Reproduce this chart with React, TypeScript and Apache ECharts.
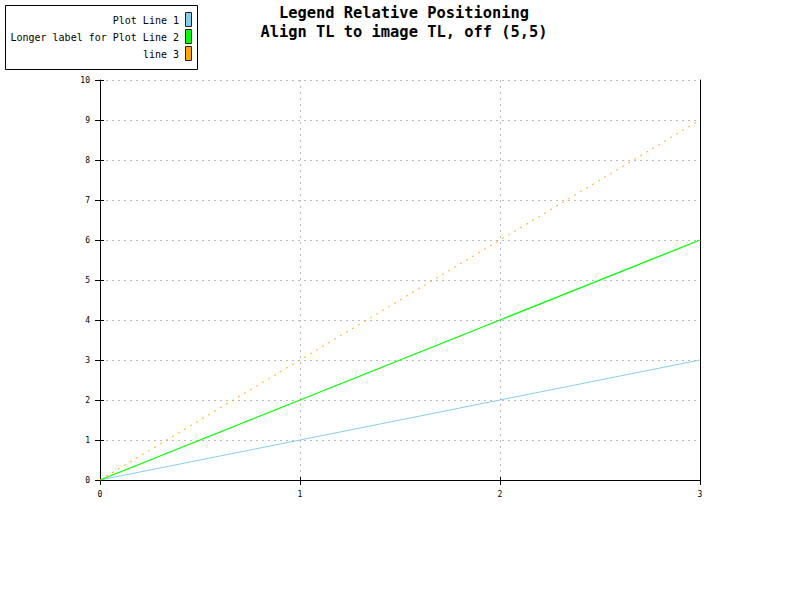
import React, { useEffect, useRef } from "react";
import * as echarts from "echarts";

const xValues = [0, 1, 2, 3];
const line1 = [0, 1, 2, 3];
const line2 = [0, 2, 4, 6];
const line3 = [0, 3, 6, 9];
const seriesNames = ["Plot Line 1", "Longer label for Plot Line 2", "line 3"];
const seriesColors = ["#87CEEB", "#00FF00", "#FFA500"];
const titleLines = ["Legend Relative Positioning", "Align TL to image TL, off (5,5)"];

const FONT = "DejaVu Sans Mono";

export default function App() {
  const ref = useRef<HTMLDivElement>(null);
  useEffect(() => {
    const chart = echarts.init(ref.current!, null, { renderer: "svg" });
    const mk = (d: number[]) => d.map((v, i) => [xValues[i], v]);
    const gridLine = { show: true, lineStyle: { color: "#bbbbbb", type: [2, 4] as any, width: 1 } };
    const legendGraphics: any[] = [
      {
        type: "rect",
        shape: { x: 5.5, y: 5.5, width: 192, height: 64 },
        style: { fill: "#fff", stroke: "#000", lineWidth: 1 },
      },
    ];
    seriesNames.forEach((n, i) => {
      const cy = 20 + i * 17;
      legendGraphics.push({
        type: "text",
        x: 179,
        y: cy,
        style: { text: n, font: `10px '${FONT}'`, fill: "#000", align: "right", verticalAlign: "middle" },
      });
      legendGraphics.push({
        type: "rect",
        shape: { x: 185.5, y: cy - 7.5, width: 6, height: 14 },
        style: { fill: seriesColors[i], stroke: "#222", lineWidth: 1 },
      });
    });
    const option: any = {
      animation: false,
      backgroundColor: "#fff",
      title: {
        text: titleLines.join("\n"),
        left: 404,
        textAlign: "center",
        top: 3,
        padding: 0,
        textStyle: { fontFamily: FONT, fontWeight: "bold", fontSize: 15.4, lineHeight: 19, color: "#000" },
      },
      grid: { left: 100, right: 100, top: 80, bottom: 120 },
      xAxis: [
        {
          type: "value",
          min: 0,
          max: 3,
          interval: 1,
          axisLine: { show: true, lineStyle: { color: "#000", width: 1 } },
          axisTick: { show: true, length: 5, lineStyle: { color: "#000" } },
          axisLabel: { fontFamily: FONT, fontSize: 8, color: "#000", margin: 10 },
          splitLine: gridLine,
        },
        {
          type: "value",
          min: 0,
          max: 3,
          interval: 1,
          position: "bottom",
          axisLine: { show: false },
          axisTick: { show: true, inside: true, length: 3, lineStyle: { color: "#000" } },
          axisLabel: { show: false },
          splitLine: { show: false },
        },
      ],
      yAxis: [
        {
          type: "value",
          min: 0,
          max: 10,
          interval: 1,
          axisLine: { show: true, lineStyle: { color: "#000", width: 1 } },
          axisTick: { show: true, length: 5, lineStyle: { color: "#000" } },
          axisLabel: { fontFamily: FONT, fontSize: 8, color: "#000", margin: 10 },
          splitLine: gridLine,
        },
        {
          type: "value",
          min: 0,
          max: 10,
          interval: 1,
          position: "left",
          axisLine: { show: false },
          axisTick: { show: true, inside: true, length: 4, lineStyle: { color: "#000" } },
          axisLabel: { show: false },
          splitLine: { show: false },
        },
        {
          type: "value",
          min: 0,
          max: 10,
          interval: 1,
          position: "right",
          axisLine: { show: true, lineStyle: { color: "#000", width: 1 } },
          axisTick: { show: false },
          axisLabel: { show: false },
          splitLine: { show: false },
        },
      ],
      series: [
        {
          name: seriesNames[0],
          type: "line",
          data: mk(line1),
          showSymbol: false,
          lineStyle: { color: seriesColors[0], width: 1 },
        },
        {
          name: seriesNames[1],
          type: "line",
          data: mk(line2),
          showSymbol: false,
          lineStyle: { color: seriesColors[1], width: 1.3 },
        },
        {
          name: seriesNames[2],
          type: "line",
          data: mk(line3),
          showSymbol: false,
          lineStyle: { color: seriesColors[2], width: 1, type: [2, 5] },
        },
      ],
      graphic: legendGraphics,
    };
    chart.setOption(option);
    return () => chart.dispose();
  }, []);
  return <div ref={ref} style={{ width: 800, height: 600, position: "absolute", left: 0, top: 0 }} />;
}
